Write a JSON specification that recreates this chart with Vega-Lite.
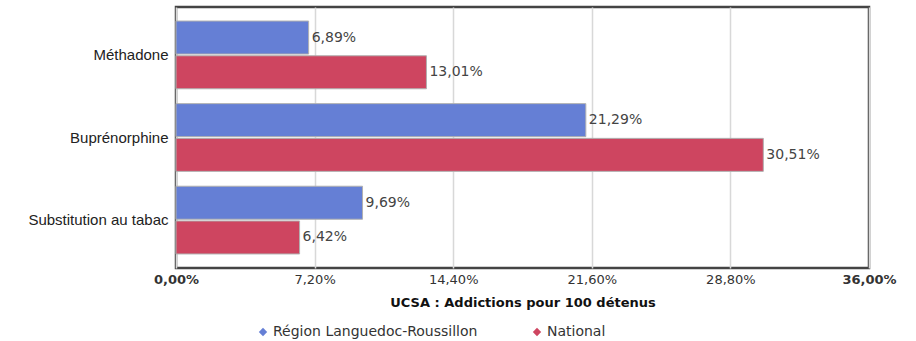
{
  "$schema": "https://vega.github.io/schema/vega-lite/v6.json",
  "autosize": "none",
  "width": 693,
  "height": 261,
  "padding": {"left": 176, "top": 7, "right": 47, "bottom": 73},
  "background": "white",
  "data": {
    "values": [
      {"cat": "Méthadone", "serie": "Région Languedoc-Roussillon", "v": 0.0689},
      {"cat": "Méthadone", "serie": "National", "v": 0.1301},
      {"cat": "Buprénorphine", "serie": "Région Languedoc-Roussillon", "v": 0.2129},
      {"cat": "Buprénorphine", "serie": "National", "v": 0.3051},
      {"cat": "Substitution au tabac", "serie": "Région Languedoc-Roussillon", "v": 0.0969},
      {"cat": "Substitution au tabac", "serie": "National", "v": 0.0642}
    ]
  },
  "encoding": {
    "y": {
      "field": "cat", "type": "nominal",
      "sort": ["Méthadone", "Buprénorphine", "Substitution au tabac"],
      "scale": {"paddingInner": 0.18, "paddingOuter": 0.17},
      "axis": {"title": null, "ticks": false, "domain": false, "labelPadding": 8, "labelFont": "Liberation Sans", "labelFontSize": 15, "labelColor": "#222", "labelLimit": 300}
    },
    "yOffset": {
      "field": "serie", "type": "nominal",
      "sort": ["Région Languedoc-Roussillon", "National"],
      "scale": {"paddingInner": 0.05}
    },
    "x": {
      "field": "v", "type": "quantitative",
      "scale": {"domain": [0, 0.36], "nice": false},
      "axis": {
        "values": [0, 0.072, 0.144, 0.216, 0.288, 0.36],
        "format": ".2%",
        "title": "UCSA : Addictions pour 100 détenus",
        "titleFont": "DejaVu Sans", "titleFontSize": 13, "titleFontWeight": "bold", "titleColor": "#111",
        "titlePadding": 10,
        "labelFont": "DejaVu Sans", "labelFontSize": 13, "labelColor": "#333",
        "labelFontWeight": {"condition": {"test": "datum.value == 0 || datum.value == 0.36", "value": "bold"}, "value": "normal"},
        "labelFlush": false, "labelOverlap": false,
        "labelPadding": 5,
        "ticks": false, "domain": false,
        "grid": true, "gridColor": "#d8d8d8", "gridWidth": 1.5
      }
    }
  },
  "layer": [
    {
      "mark": {"type": "bar", "stroke": "#b0b0b0", "strokeWidth": 1},
      "encoding": {
        "color": {
          "field": "serie", "type": "nominal",
          "sort": ["Région Languedoc-Roussillon", "National"],
          "scale": {"domain": ["Région Languedoc-Roussillon", "National"], "range": ["#657FD5", "#CE4560"]},
          "legend": {
            "title": null, "orient": "none", "direction": "horizontal",
            "legendX": 80, "legendY": 318,
            "symbolType": "diamond", "symbolSize": 70, "symbolStrokeWidth": 0,
            "labelFont": "DejaVu Sans", "labelFontSize": 14, "labelColor": "#333",
            "labelOffset": 3, "columnPadding": 52, "labelLimit": 400
          }
        }
      }
    },
    {
      "mark": {"type": "text", "align": "left", "baseline": "middle", "dx": 3, "font": "DejaVu Sans", "fontSize": 14, "color": "#444"},
      "encoding": {
        "text": {"field": "v", "type": "quantitative", "format": ".2%"}
      }
    }
  ],
  "config": {
    "locale": {"number": {"decimal": ",", "thousands": " ", "grouping": [3], "currency": ["", " €"]}},
    "view": {"stroke": "#444", "strokeWidth": 2.5}
  }
}
